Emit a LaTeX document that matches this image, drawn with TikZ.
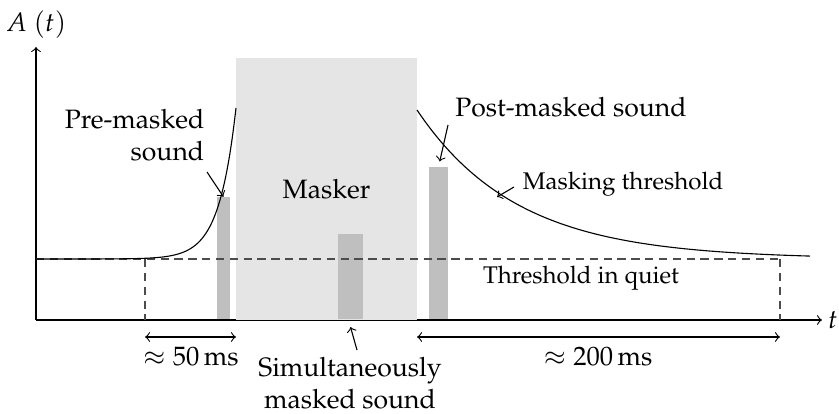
\documentclass[tikz,border=0pt]{standalone}
\usepackage[T1]{fontenc}
\usepackage{mathpazo}
\usepackage{tikz}
\usetikzlibrary{arrows,positioning,calc}
\definecolor{maskgray}{gray}{0.9}
\definecolor{bargray}{gray}{0.75}
\tikzstyle{axis} = [->]
\tikzstyle{bar} = [rectangle, fill=bargray, anchor=south, inner sep=0pt]
\tikzstyle{quietline} = [dash pattern=on 3pt off 2pt, color=black!70]
\tikzstyle{maskcurve} = [samples=100, smooth]
\tikzstyle{textlbl} = [font=\fontsize{9.6}{11.6}\selectfont]
\tikzstyle{smalllbl} = [font=\fontsize{8.7}{10.5}\selectfont]

\begin{document}
\begin{tikzpicture}[x=0.0127cm, y=-0.0127cm, every node/.style={textlbl}]
    \useasboundingbox (0,0) rectangle (839,414);
    % Axes
    \coordinate (O) at (36,320);
    \coordinate (ytip) at (36,47);
    \coordinate (xtip) at (822,320);
    \draw[axis] (O) -- (ytip);
    \draw[axis] (O) -- (xtip);
    \node (ylbl) at (36,25) {$A\ (t)$};
    \node[right=1pt of xtip, inner sep=1pt] (xlbl) {$t$};

    % Masker and sounds
    \node[fill=maskgray, minimum width=2.30cm, minimum height=3.33cm, inner sep=0pt] (masker) at (326.5,189) {Masker};
    \node[bar, minimum width=0.165cm, minimum height=1.55cm] (pre) at (223.5,320) {};
    \node[bar, minimum width=0.318cm, minimum height=1.08cm] (sim) at (350.5,320) {};
    \node[bar, minimum width=0.241cm, minimum height=1.93cm] (post) at (438.5,320) {};

    % Threshold in quiet
    \coordinate (q0) at (36,259);
    \coordinate (q1) at (145,259);
    \coordinate (q2) at (780,259);
    \draw[quietline] (q0) -- (q2);
    \draw[quietline] (q1) -- (q1 |- O);
    \draw[quietline] (q2) -- (q2 |- O);

    % Masking threshold
    \draw[maskcurve, domain=36:236] plot (\x, {259-151*exp((\x-236)/17)});
    \draw[maskcurve, domain=417:810] plot (\x, {259-149*exp(-(\x-417)/100)});

    % Durations
    \coordinate (a1) at (145,337);
    \coordinate (a2) at (236,337);
    \coordinate (a3) at (417,337);
    \coordinate (a4) at (780,337);
    \draw[<->] (a1) -- (a2);
    \draw[<->] (a3) -- (a4);
    \node (d50) at (191,357) {$\approx 50\,\mathrm{ms}$};
    \node (d200) at (598,357) {$\approx 200\,\mathrm{ms}$};

    % Labels
    \node[align=right, anchor=east] (prelbl) at (214,135) {Pre-masked\\sound};
    \draw[->] (207,172) -- (pre.north);
    \node (postlbl) at (571,107) {Post-masked sound};
    \draw[->, shorten >=2pt] (448,125) -- (post.north);
    \node[smalllbl] (mthr) at (623,184) {Masking threshold};
    \coordinate (mstart) at (514,187);
    \coordinate (mpt) at (497,197);
    \draw[->] (mstart) -- (mpt);
    \node[smalllbl] (quiet) at (581,278) {Threshold in quiet};
    \node[align=center] (simlbl) at (350,383) {Simultaneously\\masked sound};
    \coordinate (sstart) at (357,350);
    \draw[->] (sstart) -- ($(sim.south)+(0,7)$);
\end{tikzpicture}
\end{document}
